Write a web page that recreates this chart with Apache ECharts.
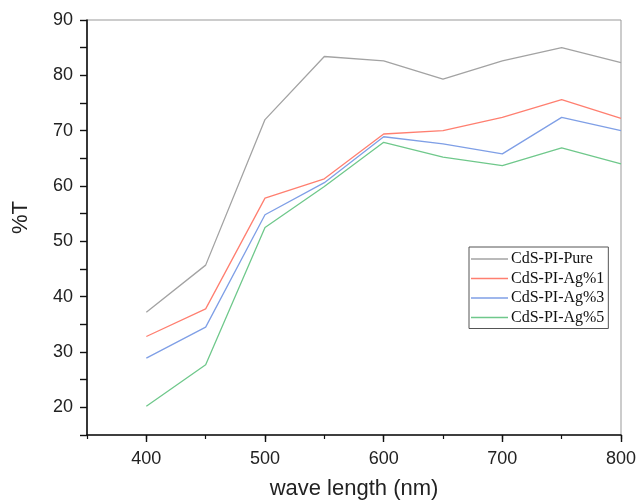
<!DOCTYPE html>
<html>
<head>
<meta charset="utf-8">
<script src="https://cdn.jsdelivr.net/npm/echarts@6/dist/echarts.min.js"></script>
<style>html,body{margin:0;padding:0;background:#fff;}#c{width:637px;height:500px;}</style>
</head>
<body>
<div id="c"></div>
<script>
var wavelengths = [400, 450, 500, 550, 600, 650, 700, 750, 800];
var xTickLabels = [400, 500, 600, 700, 800];
var yTickLabels = [20, 30, 40, 50, 60, 70, 80, 90];
var seriesNames = ['CdS-PI-Pure', 'CdS-PI-Ag%1', 'CdS-PI-Ag%3', 'CdS-PI-Ag%5'];
var pure = [37.2, 45.7, 72.0, 83.4, 82.6, 79.3, 82.6, 85.0, 82.3];
var ag1  = [32.8, 37.8, 57.8, 61.3, 69.4, 70.0, 72.4, 75.6, 72.2];
var ag3  = [28.9, 34.5, 54.8, 60.6, 68.9, 67.6, 65.8, 72.4, 70.0];
var ag5  = [20.2, 27.7, 52.5, 59.9, 67.9, 65.2, 63.7, 66.9, 64.0];
var colors = ['#a3a3a3', '#ff7f70', '#7f9fe6', '#6fc88b'];
var allValues = [pure, ag1, ag3, ag5];

function pairs(vals) {
  return wavelengths.map(function (w, i) { return [w, vals[i]]; });
}

var chart = echarts.init(document.getElementById('c'));
var axisFont = { fontFamily: 'Liberation Sans, Arial, sans-serif', fontSize: 18, color: '#222' };
chart.setOption({
  backgroundColor: '#fff',
  animation: false,
  grid: { left: 87, right: 16, top: 20, bottom: 65, show: true, borderColor: '#999', borderWidth: 1,
    containLabel: false, outerBoundsMode: 'none' },
  xAxis: [{
    type: 'value', min: 350, max: 800,
    name: 'wave length (nm)', nameLocation: 'middle', nameGap: 43,
    nameTextStyle: { fontFamily: 'Liberation Sans, Arial, sans-serif', fontSize: 22, color: '#222' },
    axisLine: { show: true, onZero: false, lineStyle: { color: '#111', width: 1.6 } },
    axisTick: { show: true, customValues: xTickLabels, length: 7, lineStyle: { color: '#111', width: 1.4 } },
    axisLabel: Object.assign({ margin: 15, customValues: xTickLabels }, axisFont),
    splitLine: { show: false }
  }, {
    type: 'value', min: 350, max: 800, interval: 50, position: 'bottom',
    axisLine: { show: false, onZero: false },
    axisTick: { show: true, length: 4, lineStyle: { color: '#111', width: 1.2 } },
    axisLabel: { show: false },
    splitLine: { show: false }
  }],
  yAxis: {
    type: 'value', min: 15, max: 90, interval: 5,
    name: '%T', nameLocation: 'middle', nameGap: 55, nameRotate: 90,
    nameTextStyle: { fontFamily: 'Liberation Sans, Arial, sans-serif', fontSize: 22, color: '#222', padding: [0, 0, 0, 20] },
    axisLine: { show: true, onZero: false, lineStyle: { color: '#111', width: 1.6 } },
    axisTick: { show: true, length: 7, lineStyle: { color: '#111', width: 1.4 } },
    axisLabel: Object.assign({ margin: 14, customValues: yTickLabels }, axisFont),
    splitLine: { show: false }
  },
  legend: {
    orient: 'vertical', left: 469, top: 247,
    padding: [4, 4, 3, 2], itemWidth: 37, itemHeight: 1.5, itemGap: 3.5, icon: 'rect',
    borderColor: '#555', borderWidth: 1, backgroundColor: '#fff',
    textStyle: { fontFamily: 'Liberation Serif, Times New Roman, serif', fontSize: 16, lineHeight: 16, color: '#111', padding: [0, 0, 0, -2] },
    data: seriesNames
  },
  series: seriesNames.map(function (n, i) {
    return {
      name: n, type: 'line', data: pairs(allValues[i]), xAxisIndex: 0,
      symbol: 'none', color: colors[i],
      lineStyle: { color: colors[i], width: 1.3 }
    };
  })
});
</script>
</body>
</html>
